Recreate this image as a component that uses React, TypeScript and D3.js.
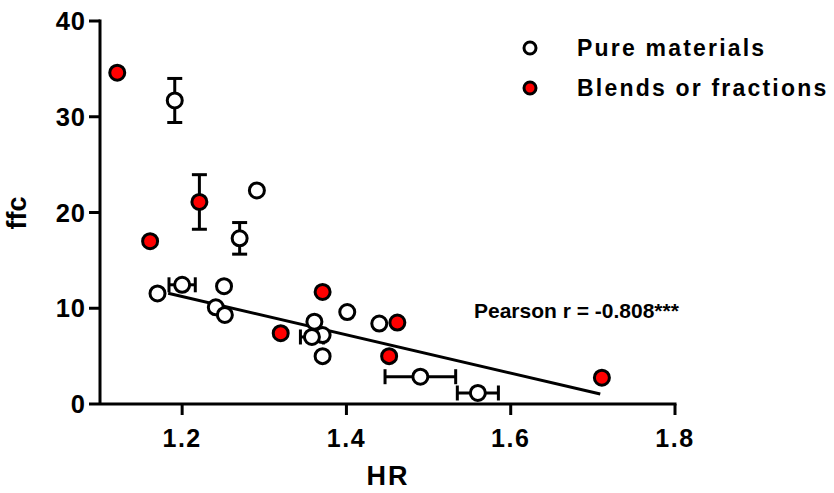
import React from 'react';
import * as d3 from 'd3';

// Pure materials (open circles)
const pureHR = [1.191, 1.291, 1.270, 1.170, 1.200, 1.251, 1.241, 1.252, 1.401, 1.361, 1.371, 1.358, 1.371, 1.440, 1.490, 1.560];
const pureFFC = [31.7, 22.3, 17.3, 11.55, 12.45, 12.3, 10.1, 9.3, 9.6, 8.6, 7.2, 7.0, 5.0, 8.4, 2.85, 1.15];
const pureYErr = [2.3, 0, 1.65, 0, 0, 0, 0, 0, 0, 0, 0, 0, 0, 0, 0, 0];
const pureXErr = [0, 0, 0, 0, 0.016, 0, 0, 0, 0, 0, 0, 0.014, 0, 0, 0.043, 0.025];

// Blends or fractions (red circles)
const blendHR = [1.121, 1.221, 1.161, 1.371, 1.320, 1.462, 1.452, 1.711];
const blendFFC = [34.6, 21.1, 17.0, 11.7, 7.4, 8.5, 5.0, 2.75];
const blendYErr = [0, 2.85, 0, 0, 0, 0, 0, 0];
const blendXErr = [0, 0, 0, 0, 0, 0, 0, 0];

// Regression line
const fitHR = [1.183, 1.709];
const fitFFC = [11.56, 1.04];

const xTicks = [1.2, 1.4, 1.6, 1.8];
const yTicks = [0, 10, 20, 30, 40];
const legendLabels = ['Pure materials', 'Blends or fractions'];
const annotation = 'Pearson r = -0.808***';

const FONT = "'Liberation Sans', Arial, sans-serif";

export default function App() {
  const x = d3.scaleLinear().domain([1.1, 1.8]).range([100, 675]);
  const y = d3.scaleLinear().domain([0, 40]).range([404, 21]);
  const line = d3.line<[number, number]>().x(d => x(d[0])).y(d => y(d[1]));
  const fitPts: [number, number][] = fitHR.map((v, i) => [v, fitFFC[i]]);

  const cap = 7.5;
  const sw = 3;

  const errorBars = (hr: number[], ffc: number[], ye: number[], xe: number[], key: string) =>
    hr.map((h, i) => {
      const cx = x(h), cy = y(ffc[i]);
      const els: any[] = [];
      if (ye[i] > 0) {
        const t = y(ffc[i] + ye[i]), b = y(ffc[i] - ye[i]);
        els.push(<line key={key + 'v' + i} x1={cx} x2={cx} y1={t} y2={b} stroke="#000" strokeWidth={sw} />);
        els.push(<line key={key + 'vt' + i} x1={cx - cap} x2={cx + cap} y1={t} y2={t} stroke="#000" strokeWidth={sw} />);
        els.push(<line key={key + 'vb' + i} x1={cx - cap} x2={cx + cap} y1={b} y2={b} stroke="#000" strokeWidth={sw} />);
      }
      if (xe[i] > 0) {
        const l = x(h - xe[i]), r = x(h + xe[i]);
        els.push(<line key={key + 'h' + i} x1={l} x2={r} y1={cy} y2={cy} stroke="#000" strokeWidth={sw} />);
        els.push(<line key={key + 'hl' + i} x1={l} x2={l} y1={cy - cap} y2={cy + cap} stroke="#000" strokeWidth={sw} />);
        els.push(<line key={key + 'hr' + i} x1={r} x2={r} y1={cy - cap} y2={cy + cap} stroke="#000" strokeWidth={sw} />);
      }
      return els;
    });

  return (
    <svg width={834} height={493} style={{ position: 'absolute', left: 0, top: 0, background: '#fff' }}
      fontFamily={FONT} fontWeight="bold">
      {/* axes */}
      <line x1={x(1.1)} x2={x(1.8) + 1.5} y1={y(0)} y2={y(0)} stroke="#000" strokeWidth={3} />
      <line x1={x(1.1)} x2={x(1.1)} y1={y(40) - 1.5} y2={y(0)} stroke="#000" strokeWidth={3} />
      {yTicks.map(t => (
        <g key={'yt' + t}>
          <line x1={x(1.1) - 11} x2={x(1.1)} y1={y(t)} y2={y(t)} stroke="#000" strokeWidth={3} />
          <text x={86} y={y(t)} dy="0.36em" textAnchor="end" fontSize={25.5} letterSpacing={1}>{t}</text>
        </g>
      ))}
      {xTicks.map(t => (
        <g key={'xt' + t}>
          <line x1={x(t)} x2={x(t)} y1={y(0)} y2={y(0) + 11} stroke="#000" strokeWidth={3} />
          <text x={x(t)} y={447} textAnchor="middle" fontSize={25} letterSpacing={1.5}>{t.toFixed(1)}</text>
        </g>
      ))}
      <text x={388} y={485} textAnchor="middle" fontSize={27} letterSpacing={2}>HR</text>
      <text transform={`translate(26,213) rotate(-90)`} textAnchor="middle" fontSize={27}>ffc</text>

      {/* regression line */}
      <path d={line(fitPts) || ''} fill="none" stroke="#000" strokeWidth={3} />

      {/* error bars */}
      {errorBars(pureHR, pureFFC, pureYErr, pureXErr, 'p')}
      {errorBars(blendHR, blendFFC, blendYErr, blendXErr, 'b')}

      {/* markers */}
      {pureHR.map((h, i) => (
        <circle key={'pc' + i} cx={x(h)} cy={y(pureFFC[i])} r={7.5} fill="#fff" stroke="#000" strokeWidth={3} />
      ))}
      {blendHR.map((h, i) => (
        <circle key={'bc' + i} cx={x(h)} cy={y(blendFFC[i])} r={7.5} fill="#ff0000" stroke="#000" strokeWidth={3} />
      ))}

      {/* annotation */}
      <text x={474} y={318} fontSize={21}>{annotation}</text>

      {/* legend */}
      <circle cx={530} cy={48} r={6} fill="#fff" stroke="#000" strokeWidth={3} />
      <text x={577} y={56} fontSize={23} letterSpacing={2.2}>{legendLabels[0]}</text>
      <circle cx={530} cy={88} r={6} fill="#ff0000" stroke="#000" strokeWidth={3} />
      <text x={577} y={96} fontSize={23} letterSpacing={2.2}>{legendLabels[1]}</text>
    </svg>
  );
}
